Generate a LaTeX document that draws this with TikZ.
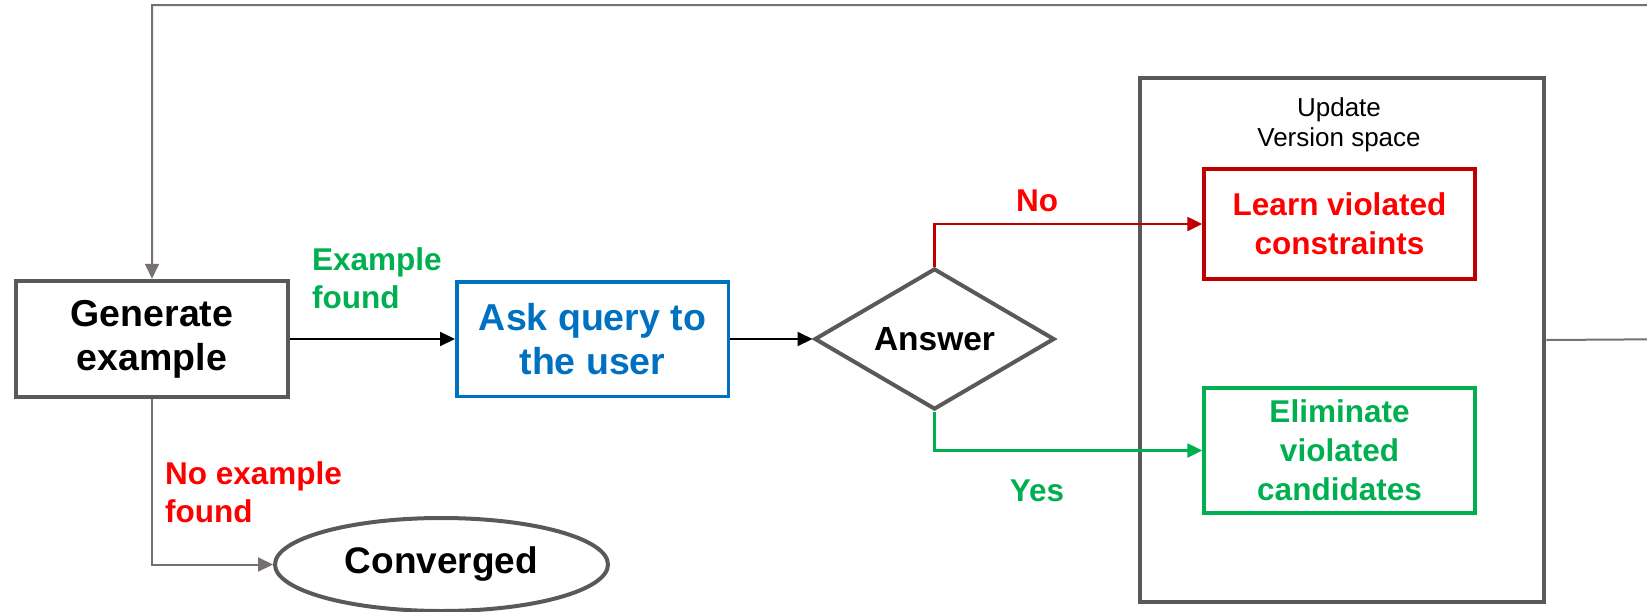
\documentclass[tikz,border=0pt]{standalone}
\usepackage{fontspec}
\setmainfont{Liberation Sans}
\usepackage{tikz}
\usetikzlibrary{shapes.geometric, arrows.meta, calc, positioning}
\definecolor{boxgray}{HTML}{595959}
\definecolor{loopgray}{HTML}{767171}
\definecolor{askblue}{HTML}{0070C0}
\definecolor{noline}{HTML}{C00000}
\definecolor{notext}{HTML}{FF0000}
\definecolor{yesgreen}{HTML}{00B050}
\tikzstyle{process} = [rectangle, draw=boxgray, line width=4.5pt, minimum width=272pt, minimum height=116pt, inner sep=0pt, align=center, font=\fontsize{37.5}{44}\selectfont\bfseries]
\tikzstyle{decision} = [diamond, draw=boxgray, line width=4pt, aspect=1.71, minimum width=240pt, minimum height=141pt, inner sep=0pt, font=\fontsize{33.5}{40}\selectfont\bfseries]
\tikzstyle{update} = [rectangle, line width=3.5pt, minimum width=271pt, inner sep=0pt, align=center, font=\fontsize{31.5}{39}\selectfont\bfseries]
\tikzstyle{lbl} = [align=left, inner sep=0pt, font=\fontsize{31.5}{38}\selectfont\bfseries]
\tikzstyle{arrow} = [line width=2pt, -{Triangle[length=15pt,width=14pt]}]
\tikzstyle{loop} = [arrow, draw=loopgray]

\begin{document}
\begin{tikzpicture}[x=1pt, y=-1pt, auto]
	\useasboundingbox (0,0) rectangle (1647,611);
	\node (gen) [process] at (152,339) {Generate\\example};
	\node (ask) [process, draw=askblue, line width=3.5pt, text=askblue, minimum width=271.5pt, minimum height=114.5pt] at (592.5,339) {Ask query to\\the user};
	\node (ans) [decision] at (934.5,339) {Answer};
	\node (conv) [ellipse, draw=boxgray, line width=4pt, minimum width=333pt, minimum height=93pt, font=\fontsize{37}{42}\selectfont\bfseries] at (441.5,564.5) {Converged};
	\node (vspace) [rectangle, draw=boxgray, line width=4.5pt, minimum width=404pt, minimum height=524pt] at (1342,340) {};
	\node (vtitle) [align=center, inner sep=0pt, font=\fontsize{26}{30}\selectfont] at (1339,125) {Update\\Version space};
	\node (learn) [update, draw=noline, text=notext, minimum height=110pt] at (1339.5,224) {Learn violated\\constraints};
	\node (elim) [update, draw=yesgreen, text=yesgreen, minimum height=125pt] at (1339.5,450.5) {Eliminate\\violated\\candidates};

	\node (found) [lbl, text=yesgreen, anchor=west] at (312,278) {Example\\found};
	\node (notfound) [lbl, text=notext, anchor=west] at (165,492) {No example\\found};
	\node (no) [lbl, text=notext] at (1037,201) {No};
	\node (yes) [lbl, text=yesgreen] at (1037,491) {Yes};

	\coordinate (loopR) at (1700,339);
	\coordinate (loopT) at (1700,5);

	\draw[arrow] (gen.east) -- (ask.west);
	\draw[arrow] (ask.east) -- (ans.west);
	\draw[arrow, line width=2.5pt, draw=noline] (ans.north) |- (learn.west);
	\draw[arrow, line width=2.5pt, draw=yesgreen] (ans.south) |- (elim.west);
	\draw[loop] (gen.south) |- (conv.west);
	\begin{scope}
		\clip (0,0) rectangle (1647,611);
		\draw[loop] (vspace.east) -- (loopR) -- (loopT) -| (gen.north);
	\end{scope}
\end{tikzpicture}
\end{document}
